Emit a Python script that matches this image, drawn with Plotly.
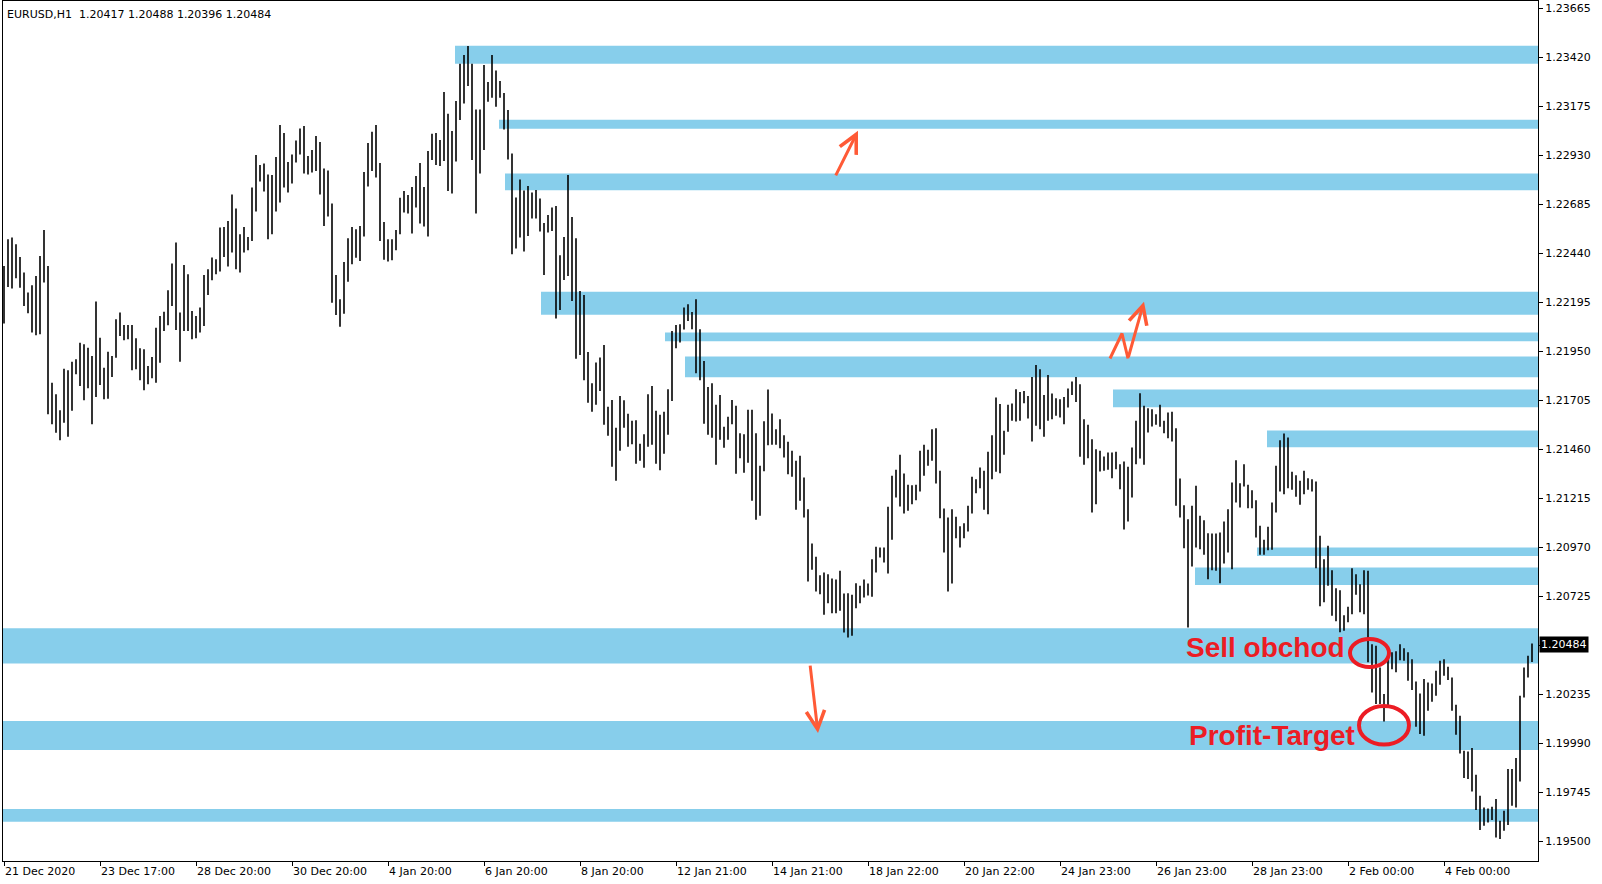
import plotly.graph_objects as go

title_text = "EURUSD,H1  1.20417 1.20488 1.20396 1.20484"
last_price = 1.20484

# Bar highs / lows (each bar = 2 hours)
highs = [
    1.22377, 1.22510, 1.22519, 1.22485, 1.22422, 1.22344, 1.22244, 1.22280, 1.22327, 1.22427, 1.22557, 1.22377,
    1.21793, 1.21735, 1.21655, 1.21863, 1.21855, 1.21898, 1.21910, 1.21993, 1.21985, 1.21968, 1.21927, 1.22199,
    1.22018, 1.21868, 1.21948, 1.21927, 1.22110, 1.22144, 1.22082, 1.22082, 1.22082, 1.22015, 1.21965, 1.21960,
    1.21877, 1.21922, 1.22068, 1.22127, 1.22148, 1.22255, 1.22389, 1.22494, 1.22144, 1.22382, 1.22335, 1.22152,
    1.22127, 1.22169, 1.22332, 1.22360, 1.22419, 1.22410, 1.22569, 1.22572, 1.22602, 1.22735, 1.22665, 1.22535,
    1.22572, 1.22522, 1.22769, 1.22932, 1.22882, 1.22890, 1.22835, 1.22832, 1.22922, 1.23082, 1.23042, 1.22897,
    1.22935, 1.23005, 1.23065, 1.23077, 1.22927, 1.22957, 1.23027, 1.22997, 1.22865, 1.22855, 1.22690, 1.22332,
    1.22210, 1.22397, 1.22515, 1.22572, 1.22560, 1.22577, 1.22847, 1.22992, 1.23049, 1.23082, 1.22892, 1.22597,
    1.22510, 1.22510, 1.22557, 1.22718, 1.22752, 1.22732, 1.22772, 1.22827, 1.22892, 1.22772, 1.22952, 1.23039,
    1.23042, 1.23007, 1.23247, 1.23139, 1.23052, 1.23202, 1.23389, 1.23432, 1.23477, 1.23389, 1.23160, 1.23160,
    1.23382, 1.23297, 1.23432, 1.23355, 1.23302, 1.23242, 1.23157, 1.22940, 1.22719, 1.22810, 1.22755, 1.22777,
    1.22744, 1.22757, 1.22714, 1.22592, 1.22632, 1.22669, 1.22677, 1.22430, 1.22522, 1.22832, 1.22622, 1.22515,
    1.22252, 1.22232, 1.21947, 1.21790, 1.21894, 1.21919, 1.21982, 1.21672, 1.21707, 1.21568, 1.21727, 1.21705,
    1.21638, 1.21602, 1.21605, 1.21488, 1.21535, 1.21735, 1.21777, 1.21652, 1.21632, 1.21648, 1.21760, 1.22052,
    1.22082, 1.22085, 1.22169, 1.22185, 1.22147, 1.22210, 1.22060, 1.21902, 1.21772, 1.21790, 1.21682, 1.21732,
    1.21573, 1.21622, 1.21707, 1.21677, 1.21540, 1.21535, 1.21657, 1.21658, 1.21540, 1.21377, 1.21600, 1.21759,
    1.21639, 1.21560, 1.21610, 1.21530, 1.21497, 1.21452, 1.21402, 1.21427, 1.21319, 1.21160, 1.20989, 1.20922,
    1.20830, 1.20843, 1.20835, 1.20813, 1.20808, 1.20852, 1.20738, 1.20740, 1.20732, 1.20790, 1.20777, 1.20808,
    1.20788, 1.20910, 1.20972, 1.20969, 1.20969, 1.21172, 1.21327, 1.21357, 1.21432, 1.21339, 1.21282, 1.21280,
    1.21282, 1.21452, 1.21482, 1.21457, 1.21560, 1.21565, 1.21352, 1.21164, 1.21119, 1.21160, 1.21122, 1.21075,
    1.21090, 1.21177, 1.21322, 1.21310, 1.21369, 1.21352, 1.21447, 1.21530, 1.21719, 1.21687, 1.21552, 1.21682,
    1.21689, 1.21760, 1.21747, 1.21752, 1.21727, 1.21822, 1.21882, 1.21860, 1.21732, 1.21832, 1.21739, 1.21715,
    1.21710, 1.21722, 1.21764, 1.21799, 1.21822, 1.21785, 1.21610, 1.21582, 1.21510, 1.21460, 1.21452, 1.21424,
    1.21444, 1.21444, 1.21447, 1.21385, 1.21399, 1.21372, 1.21469, 1.21602, 1.21740, 1.21677, 1.21665, 1.21660,
    1.21635, 1.21682, 1.21602, 1.21644, 1.21647, 1.21565, 1.21314, 1.21180, 1.21110, 1.21177, 1.21277, 1.21127,
    1.21105, 1.21040, 1.21039, 1.21039, 1.21044, 1.21099, 1.21160, 1.21294, 1.21405, 1.21290, 1.21385, 1.21282,
    1.21255, 1.21205, 1.21077, 1.21007, 1.21072, 1.21194, 1.21377, 1.21505, 1.21539, 1.21519, 1.21347, 1.21330,
    1.21302, 1.21352, 1.21315, 1.21310, 1.21299, 1.21027, 1.20910, 1.20977, 1.20855, 1.20765, 1.20755, 1.20630,
    1.20672, 1.20865, 1.20835, 1.20785, 1.20855, 1.20852, 1.20485, 1.20477, 1.20368, 1.20235, 1.20427, 1.20444,
    1.20449, 1.20485, 1.20465, 1.20444, 1.20410, 1.20298, 1.20238, 1.20310, 1.20293, 1.20288, 1.20352, 1.20402,
    1.20410, 1.20372, 1.20318, 1.20182, 1.20127, 1.19952, 1.19948, 1.19965, 1.19832, 1.19727, 1.19668, 1.19663,
    1.19672, 1.19710, 1.19602, 1.19652, 1.19860, 1.19860, 1.19915, 1.20227, 1.20368, 1.20427, 1.20488,
]
lows = [
    1.22089, 1.22272, 1.22264, 1.22315, 1.22268, 1.22177, 1.22140, 1.22044, 1.22030, 1.22035, 1.22294, 1.21635,
    1.21585, 1.21543, 1.21505, 1.21593, 1.21522, 1.21652, 1.21835, 1.21777, 1.21705, 1.21765, 1.21585, 1.21722,
    1.21782, 1.21710, 1.21713, 1.21822, 1.21918, 1.22027, 1.22005, 1.22010, 1.21855, 1.21860, 1.21805, 1.21755,
    1.21785, 1.21815, 1.21793, 1.21893, 1.22052, 1.22080, 1.22177, 1.22057, 1.21898, 1.22052, 1.22052, 1.22010,
    1.22015, 1.22044, 1.22077, 1.22232, 1.22305, 1.22335, 1.22349, 1.22422, 1.22374, 1.22444, 1.22360, 1.22344,
    1.22444, 1.22455, 1.22502, 1.22649, 1.22799, 1.22749, 1.22510, 1.22535, 1.22649, 1.22694, 1.22769, 1.22744,
    1.22789, 1.22894, 1.22935, 1.22839, 1.22835, 1.22844, 1.22852, 1.22735, 1.22577, 1.22624, 1.22193, 1.22132,
    1.22073, 1.22138, 1.22298, 1.22385, 1.22418, 1.22402, 1.22524, 1.22774, 1.22852, 1.22819, 1.22502, 1.22408,
    1.22399, 1.22405, 1.22455, 1.22535, 1.22644, 1.22639, 1.22539, 1.22669, 1.22589, 1.22574, 1.22524, 1.22907,
    1.22882, 1.22877, 1.22902, 1.22752, 1.22739, 1.22899, 1.23107, 1.23190, 1.23277, 1.22907, 1.22640, 1.22839,
    1.22957, 1.23199, 1.23219, 1.23174, 1.23219, 1.23060, 1.22910, 1.22435, 1.22464, 1.22519, 1.22449, 1.22527,
    1.22614, 1.22614, 1.22549, 1.22332, 1.22544, 1.22552, 1.22114, 1.22157, 1.22307, 1.22327, 1.22202, 1.21913,
    1.21932, 1.21805, 1.21693, 1.21648, 1.21682, 1.21752, 1.21582, 1.21527, 1.21372, 1.21302, 1.21452, 1.21568,
    1.21473, 1.21485, 1.21388, 1.21402, 1.21368, 1.21473, 1.21482, 1.21388, 1.21355, 1.21438, 1.21532, 1.21702,
    1.21965, 1.21994, 1.22059, 1.22102, 1.22060, 1.21840, 1.21805, 1.21588, 1.21532, 1.21518, 1.21382, 1.21507,
    1.21468, 1.21507, 1.21585, 1.21338, 1.21415, 1.21343, 1.21393, 1.21202, 1.21107, 1.21127, 1.21350, 1.21480,
    1.21482, 1.21482, 1.21465, 1.21419, 1.21335, 1.21322, 1.21157, 1.21202, 1.21119, 1.20798, 1.20857, 1.20748,
    1.20735, 1.20632, 1.20690, 1.20640, 1.20640, 1.20652, 1.20543, 1.20518, 1.20527, 1.20665, 1.20690, 1.20718,
    1.20728, 1.20722, 1.20843, 1.20918, 1.20893, 1.20838, 1.21007, 1.21219, 1.21174, 1.21139, 1.21152, 1.21185,
    1.21205, 1.21249, 1.21327, 1.21377, 1.21402, 1.21289, 1.21115, 1.20944, 1.20748, 1.20788, 1.21015, 1.20969,
    1.21015, 1.21049, 1.21139, 1.21240, 1.21265, 1.21157, 1.21135, 1.21310, 1.21347, 1.21340, 1.21432, 1.21547,
    1.21602, 1.21599, 1.21602, 1.21690, 1.21614, 1.21499, 1.21577, 1.21560, 1.21522, 1.21602, 1.21610, 1.21627,
    1.21619, 1.21585, 1.21669, 1.21732, 1.21697, 1.21422, 1.21382, 1.21415, 1.21144, 1.21185, 1.21349, 1.21352,
    1.21357, 1.21315, 1.21360, 1.21260, 1.21059, 1.21099, 1.21219, 1.21385, 1.21414, 1.21382, 1.21544, 1.21574,
    1.21582, 1.21572, 1.21540, 1.21515, 1.21499, 1.21177, 1.21119, 1.20965, 1.20568, 1.20874, 1.20969, 1.20960,
    1.20932, 1.20810, 1.20855, 1.20852, 1.20790, 1.20889, 1.20944, 1.20860, 1.21194, 1.21169, 1.21274, 1.21165,
    1.21165, 1.21019, 1.20932, 1.20932, 1.20955, 1.20957, 1.21144, 1.21249, 1.21235, 1.21265, 1.21257, 1.21222,
    1.21182, 1.21235, 1.21257, 1.21249, 1.20865, 1.20674, 1.20694, 1.20777, 1.20627, 1.20599, 1.20544, 1.20552,
    1.20594, 1.20635, 1.20732, 1.20644, 1.20635, 1.20394, 1.20243, 1.20185, 1.20185, 1.20098, 1.20172, 1.20360,
    1.20344, 1.20405, 1.20402, 1.20302, 1.20255, 1.20072, 1.20035, 1.20027, 1.20152, 1.20197, 1.20227, 1.20282,
    1.20327, 1.20305, 1.20152, 1.20032, 1.19938, 1.19815, 1.19810, 1.19748, 1.19655, 1.19555, 1.19577, 1.19593,
    1.19605, 1.19518, 1.19510, 1.19552, 1.19580, 1.19677, 1.19668, 1.19798, 1.20218, 1.20318, 1.20396,
]

x_tick_pos = [0, 24, 48, 72, 96, 120, 144, 168, 192, 216, 240, 264, 288, 312, 336, 360]
x_tick_labels = ["21 Dec 2020", "23 Dec 17:00", "28 Dec 20:00", "30 Dec 20:00", "4 Jan 20:00",
                 "6 Jan 20:00", "8 Jan 20:00", "12 Jan 21:00", "14 Jan 21:00", "18 Jan 22:00",
                 "20 Jan 22:00", "24 Jan 23:00", "26 Jan 23:00", "28 Jan 23:00", "2 Feb 00:00",
                 "4 Feb 00:00"]
y_ticks = [1.19500, 1.19745, 1.19990, 1.20235, 1.20480, 1.20725, 1.20970, 1.21215, 1.21460,
           1.21705, 1.21950, 1.22195, 1.22440, 1.22685, 1.22930, 1.23175, 1.23420, 1.23665]

# Support / resistance zones: start bar, top price, bottom price
zone_start = [112.75, 123.75, 125.25, 134.25, 165.25, 170.25, 277.25, 315.75, 313.25, 297.75, -0.25, -0.25, -0.25]
zone_top = [1.23478, 1.23108, 1.22839, 1.22248, 1.22044, 1.21924, 1.21759, 1.21554, 1.20969, 1.20869, 1.20564, 1.20100, 1.19660]
zone_bottom = [1.23389, 1.23064, 1.22756, 1.22133, 1.22000, 1.21820, 1.21670, 1.21470, 1.20926, 1.20781, 1.20388, 1.19955, 1.19596]

X_MIN, X_MAX = -0.25, 383.5
Y_MIN, Y_MAX = 1.194001, 1.237025
ZONE_COLOR = "#87CEEB"
ARROW_COLOR = "#FF5A36"
RED = "#EC1C24"

bx, by = [], []
for i, (h, l) in enumerate(zip(highs, lows)):
    bx += [i, i, None]
    by += [l, h, None]

fig = go.Figure()
fig.add_trace(go.Scatter(x=bx, y=by, mode="lines", line=dict(color="black", width=1.6),
                         hoverinfo="skip", showlegend=False))

shapes = []
for s, t, b in zip(zone_start, zone_top, zone_bottom):
    shapes.append(dict(type="rect", xref="x", yref="y", x0=s, x1=X_MAX, y0=b, y1=t,
                       fillcolor=ZONE_COLOR, line=dict(width=0), layer="below"))

# hand-drawn ellipses
shapes.append(dict(type="circle", xref="x", yref="y", x0=336.5, x1=346.25, y0=1.20371, y1=1.20511,
                   line=dict(color=RED, width=4), layer="above"))
shapes.append(dict(type="circle", xref="x", yref="y", x0=338.75, x1=351.25, y0=1.19983, y1=1.20176,
                   line=dict(color=RED, width=4), layer="above"))

# zig-zag arrow body
fig.add_trace(go.Scatter(x=[276.5, 279.5, 281.0], y=[1.21914, 1.22039, 1.21914], mode="lines",
                         line=dict(color=ARROW_COLOR, width=3), hoverinfo="skip", showlegend=False))

annotations = [
    dict(xref="paper", yref="paper", x=0, y=1, xanchor="left", yanchor="top", xshift=2, yshift=-5,
         text=title_text, showarrow=False, font=dict(family="DejaVu Sans", size=11, color="black")),
    dict(xref="paper", yref="y", x=1, y=last_price, xanchor="left", yanchor="middle", xshift=1,
         text=f"{last_price:.5f}", showarrow=False, bgcolor="black", borderpad=1,
         font=dict(family="DejaVu Sans", size=11, color="white")),
    dict(xref="x", yref="y", x=315.3, y=1.20469, text="<b>Sell obchod</b>", showarrow=False,
         xanchor="center", yanchor="middle", font=dict(family="Liberation Sans", size=28, color=RED)),
    dict(xref="x", yref="y", x=317.0, y=1.20030, text="<b>Profit-Target</b>", showarrow=False,
         xanchor="center", yanchor="middle", font=dict(family="Liberation Sans", size=28, color=RED)),
    # arrows
    dict(xref="x", yref="y", axref="x", ayref="y", x=213.5, y=1.23053, ax=207.75, ay=1.22823,
         showarrow=True, arrowhead=5, arrowsize=1.2, arrowwidth=3, arrowcolor=ARROW_COLOR, text=""),
    dict(xref="x", yref="y", axref="x", ayref="y", x=203.5, y=1.20040, ax=201.5, ay=1.20385,
         showarrow=True, arrowhead=5, arrowsize=1.2, arrowwidth=3, arrowcolor=ARROW_COLOR, text=""),
    dict(xref="x", yref="y", axref="x", ayref="y", x=285.0, y=1.22198, ax=281.0, ay=1.21914,
         showarrow=True, arrowhead=5, arrowsize=1.2, arrowwidth=3, arrowcolor=ARROW_COLOR, text=""),
]

# the tick under the current-price box carries no label (hidden by the box in the reference)
y_tick_text = ["" if abs(v - last_price) < 0.0002 else f"{v:.5f}" for v in y_ticks]

fig.update_layout(
    width=1602, height=884,
    margin=dict(l=3, r=64, t=1, b=23),
    paper_bgcolor="white", plot_bgcolor="white",
    showlegend=False,
    font=dict(family="DejaVu Sans", size=11, color="black"),
    shapes=shapes, annotations=annotations,
)
fig.update_xaxes(range=[X_MIN, X_MAX], tickmode="array", tickvals=x_tick_pos, ticktext=x_tick_labels,
                 ticks="outside", ticklen=4, tickcolor="black", ticklabelposition="outside right",
                 showgrid=False, zeroline=False, showline=True, linecolor="black", linewidth=1, mirror=True)
fig.update_yaxes(range=[Y_MIN, Y_MAX], side="right", tickmode="array", tickvals=y_ticks,
                 ticktext=y_tick_text,
                 ticks="outside", ticklen=4, tickcolor="black",
                 showgrid=False, zeroline=False, showline=True, linecolor="black", linewidth=1, mirror=True)

fig.write_html("out.html", config={"displayModeBar": False},
               post_script="document.body.style.margin='0';document.body.style.overflow='hidden';")
